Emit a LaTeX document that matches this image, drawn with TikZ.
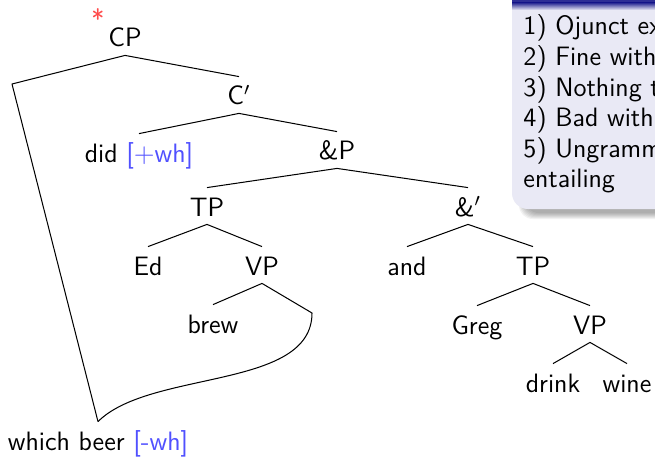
\documentclass[tikz,border=0pt]{standalone}
\usepackage{xcolor}
\definecolor{featblue}{RGB}{80,80,255}
\definecolor{starred}{RGB}{255,75,75}
\definecolor{blockbody}{RGB}{233,233,245}
\definecolor{blocktitle}{RGB}{45,45,150}
\begin{document}
\begin{tikzpicture}[x=0.44pt,y=-0.44pt,
  cat/.style={anchor=base, inner sep=0pt, text height=12.3pt, text depth=3.5pt,
              font=\fontsize{11.7}{14.4}\selectfont\sffamily},
  blocktext/.style={anchor=base west, inner sep=0pt,
              font=\fontsize{11.7}{14.4}\selectfont\sffamily},
  branch/.style={line width=0.45pt, line join=round},
  feat/.style={text=featblue}]
\useasboundingbox (0,0) rectangle (655,456);
\clip (0,0) rectangle (655,456);
\fill[white] (0,0) rectangle (655,456);

% ---- note block (top right) ----
\foreach \i in {0,...,6}
  \fill[black, opacity=0.05, rounded corners=6]
    (519+\i,-20) rectangle (720,219-\i);
\fill[blockbody, rounded corners=7] (512,-20) rectangle (720,209);
\fill[blocktitle] (512,-20) rectangle (720,3);
\shade[top color=blocktitle, bottom color=blockbody] (512,3) rectangle (720,10);

\node[blocktext] (n1) at (523,35)    {1) Ojunct ex};
\node[blocktext] (n2) at (523,65.6)  {2) Fine with};
\node[blocktext] (n3) at (523,96.2)  {3) Nothing t};
\node[blocktext] (n4) at (523,126.8) {4) Bad with};
\node[blocktext] (n5) at (523,157.4) {5) Ungramm};
\node[blocktext] (n6) at (523,188)   {entailing};

% ---- tree nodes ----
\node[cat] (cp)     at (125,47)  {CP};
\node[inner sep=0pt, text=starred, font=\fontsize{11.7}{14.4}\selectfont\sffamily]
      (star) at (98,19) {*};
\node[cat] (cbar)   at (239,105) {C$'$};
\node[cat] (did)    at (139,162) {did \textcolor{featblue}{[$+$wh]}};
\node[cat] (andp)   at (337,160) {\&P};
\node[cat] (tpa)    at (207,216) {TP};
\node[cat] (andbar) at (468,216) {\&$'$};
\node[cat] (ed)     at (148,275) {Ed};
\node[cat] (vpa)    at (262,275) {VP};
\node[cat] (and)    at (407,275) {and};
\node[cat] (tpb)    at (533,275) {TP};
\node[cat] (brew)   at (213,333) {brew};
\node[cat] (greg)   at (477,334) {Greg};
\node[cat] (vpb)    at (590,334) {VP};
\node[cat] (drink)  at (553,392) {drink};
\node[cat] (wine)   at (627,392) {wine};
\node[cat] (which)  at (98,450)  {which beer \textcolor{featblue}{[-wh]}};

\coordinate (bend)  at (12,84);
\coordinate (trace) at (312,313);

% ---- branches ----
\draw[branch] (cp.south) -- (cbar.north);
\draw[branch] (cp.south) -- (bend) -- (which.north);
\draw[branch] (cbar.south) -- (did.north);
\draw[branch] (cbar.south) -- (andp.north);
\draw[branch] (andp.south) -- (tpa.north);
\draw[branch] (andp.south) -- (andbar.north);
\draw[branch] (tpa.south) -- (ed.north);
\draw[branch] (tpa.south) -- (vpa.north);
\draw[branch] (vpa.south) -- (brew.north);
\draw[branch] (vpa.south) -- (trace)
   .. controls +(0,77) and +(52,-52) .. (which.north);
\draw[branch] (andbar.south) -- (and.north);
\draw[branch] (andbar.south) -- (tpb.north);
\draw[branch] (tpb.south) -- (greg.north);
\draw[branch] (tpb.south) -- (vpb.north);
\draw[branch] (vpb.south) -- (drink.north);
\draw[branch] (vpb.south) -- (wine.north);
\end{tikzpicture}
\end{document}
